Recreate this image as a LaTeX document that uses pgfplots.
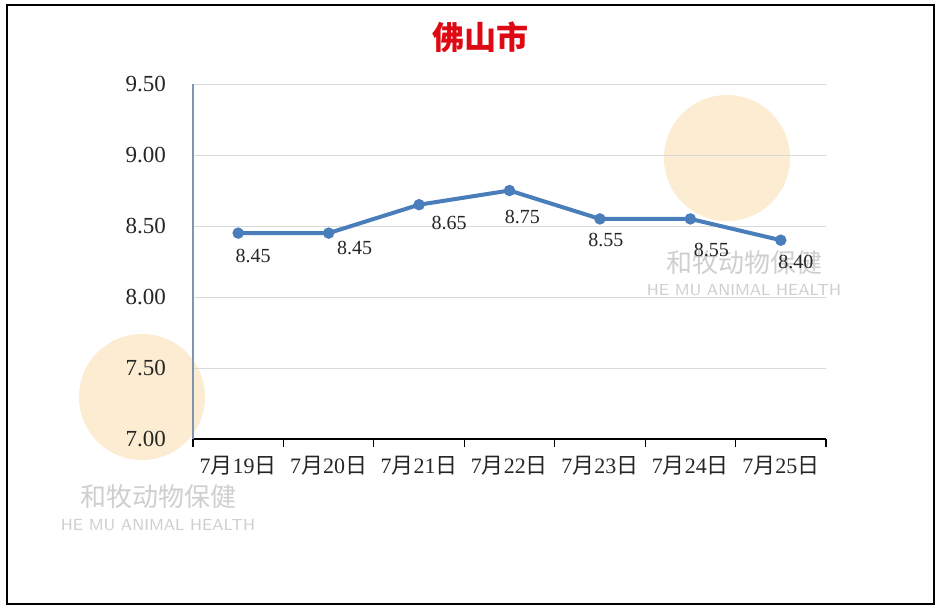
\documentclass[border=0pt]{standalone}
\usepackage{pgfplots}
\pgfplotsset{compat=1.18}
\usepackage{fontspec}
\setmainfont{Liberation Serif}
\newfontfamily\cjk{Noto Sans CJK SC}
\definecolor{linec}{HTML}{4A7EBB}
\definecolor{gridc}{HTML}{D9D9D9}
\definecolor{yaxc}{HTML}{7F95B0}
\definecolor{titlec}{HTML}{DD0A14}
\definecolor{peach}{HTML}{FBE6C4}
\definecolor{wmgray}{HTML}{CFCFCF}
\begin{document}
\begin{tikzpicture}[x=0.5pt,y=-0.5pt]
% canvas and frame
\fill[white] (0,0) rectangle (942,612);
\draw[black, line width=0.8pt] (7,5) rectangle (934,604);
% watermarks
\fill[peach, opacity=0.75] (727,158) circle (63);
\fill[peach, opacity=0.75] (142,397) circle (63);
\node[text=wmgray, font=\cjk\fontsize{13pt}{13pt}\selectfont] at (744,263) {和牧动物保健};
\node[text=wmgray, font=\sffamily\fontsize{8pt}{8pt}\selectfont] at (744,290) {HE MU ANIMAL HEALTH};
\node[text=wmgray, font=\cjk\fontsize{13pt}{13pt}\selectfont] at (158,497) {和牧动物保健};
\node[text=wmgray, font=\sffamily\fontsize{8pt}{8pt}\selectfont] at (158,525) {HE MU ANIMAL HEALTH};
% title
\node[text=titlec, font=\cjk\bfseries\fontsize{16pt}{16pt}\selectfont] at (480,37) {佛山市};
\coordinate (axorig) at (193,439);
\begin{axis}[
  at={(axorig)}, anchor=south west,
  scale only axis, width=316.5pt, height=177.5pt,
  xmin=-0.5, xmax=6.5, ymin=7, ymax=9.5,
  axis x line*=bottom, axis y line*=left,
  x axis line style={black, line width=0.6pt, -},
  y axis line style={yaxc, line width=0.6pt, -},
  xtick={0,...,6},
  xticklabels={7{\cjk 月}19{\cjk 日},7{\cjk 月}20{\cjk 日},7{\cjk 月}21{\cjk 日},7{\cjk 月}22{\cjk 日},7{\cjk 月}23{\cjk 日},7{\cjk 月}24{\cjk 日},7{\cjk 月}25{\cjk 日}},
  minor xtick={-0.5,0.5,...,6.5},
  major tick length=0pt,
  minor tick length=4pt,
  tick align=outside,
  minor tick style={black, line width=0.6pt},
  ytick={7,7.5,...,9.5},
  ymajorgrids, major grid style={gridc, line width=0.5pt},
  yticklabel={\pgfmathprintnumber[fixed,fixed zerofill,precision=2]{\tick}},
  /pgf/number format/assume math mode=true,
  ticklabel style={font=\fontsize{11pt}{11pt}\selectfont, text=black!85},
  yticklabel style={xshift=-10pt, font=\fontsize{11.5pt}{11.5pt}\selectfont},
  xticklabel style={yshift=-5pt},
  clip=false,
]
\addplot[linec, line width=2pt, mark=*, mark size=1.8pt, mark options={fill=linec, draw=linec},
  nodes near coords={\pgfmathprintnumber[fixed,fixed zerofill,precision=2]{\pgfplotspointmeta}},
  visualization depends on={\thisrow{dx}\as\mydx},
  visualization depends on={\thisrow{dy}\as\mydy},
  every node near coord/.append style={anchor=center, font=\fontsize{10pt}{10pt}\selectfont, text=black!85, xshift=\mydx pt, yshift=\mydy pt},
] table {
x y dx dy
0 8.45 7.5 -11.5
1 8.45 13 -7.5
2 8.65 15 -9
3 8.75 6.5 -13
4 8.55 3 -10.5
5 8.55 10.5 -15.5
6 8.40 7.5 -11
};
\end{axis}
\end{tikzpicture}
\end{document}
